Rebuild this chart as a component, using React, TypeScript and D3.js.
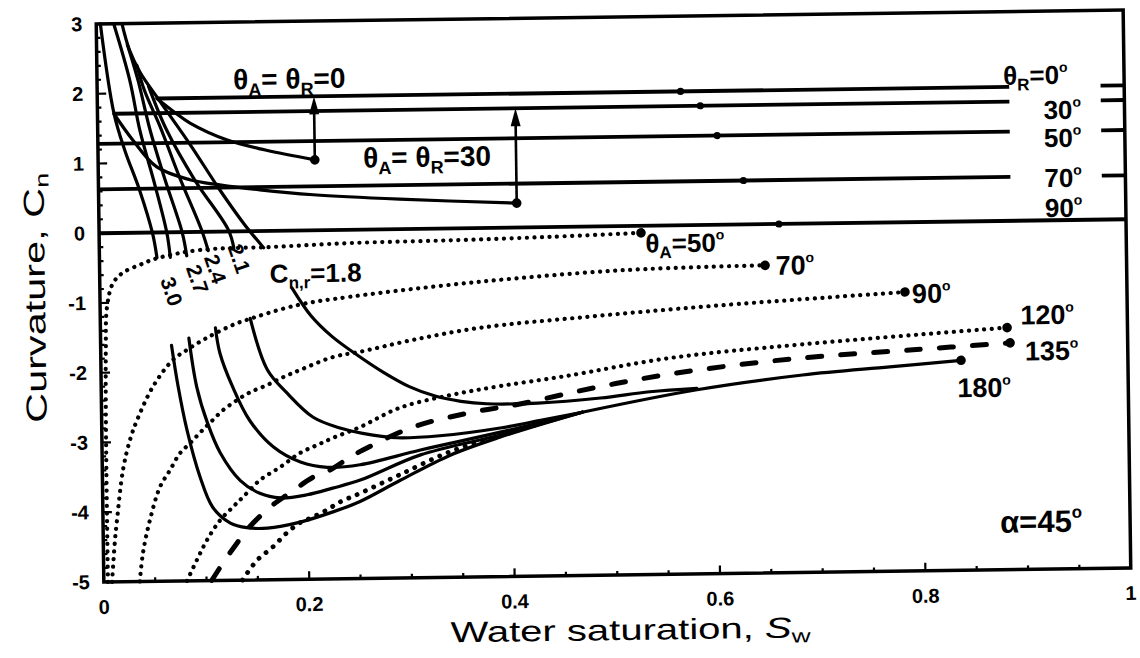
import React from 'react';
import * as d3 from 'd3';

type P = [number, number];

// ---- axes ----
const xTickValues = [0, 0.2, 0.4, 0.6, 0.8, 1];
const xTickLabels = ['0', '0.2', '0.4', '0.6', '0.8', '1'];
const yTickValues = [3, 2, 1, 0, -1, -2, -3, -4, -5];
const yTickLabels = ['3', '2', '1', '0', '-1', '-2', '-3', '-4', '-5'];

// ---- receding contact angle plateaus (θR = 0, 30, 50, 70, 90°) ----
const recedingCn = [1.92, 1.71, 1.28, 0.63, 0];
const recedingFrom = [0.058, 0.016, 0, 0, 0];
const recedingTo = [0.888, 0.888, 0.888, 0.888, 1];
const recedingMarkSw = [0.568, 0.587, 0.603, 0.628, 0.662];
const recedingStubFrom = 0.977;

// ---- hinging curves, upper parts (Cn,r = 3.0 ... 1.8) ----
const hingeLeftTop: P[] = [[0.004, 3.0], [0.016, 1.72], [0.026, 1.19], [0.040, 0.61], [0.052, -0.01], [0.056, -0.36]];
const cnr30Top: P[] = [[0.017, 3.0], [0.032, 2.18], [0.041, 1.47], [0.055, 0.68], [0.066, -0.01], [0.069, -0.36]];
const cnr27Top: P[] = [[0.030, 2.7], [0.040, 2.18], [0.051, 1.47], [0.065, 0.75], [0.081, -0.01], [0.085, -0.34]];
const cnr24Top: P[] = [[0.039, 2.4], [0.046, 2.04], [0.061, 1.51], [0.079, 0.79], [0.100, 0.02], [0.106, -0.27]];
const cnr21Top: P[] = [[0.050, 2.1], [0.067, 1.47], [0.094, 0.74], [0.126, 0.02], [0.131, -0.24]];
const cnr18Top: P[] = [[0.025, 3.0], [0.032, 2.62], [0.042, 2.30], [0.060, 1.90], [0.090, 1.25], [0.118, 0.60], [0.142, 0.09], [0.160, -0.24]];

// ---- hinging curves, lower parts ----
const cnr30Low: P[] = [[0.069, -1.62], [0.075, -2.22], [0.083, -2.84], [0.095, -3.51], [0.107, -3.95], [0.124, -4.18], [0.140, -4.25], [0.160, -4.26], [0.192, -4.18], [0.224, -4.04], [0.250, -3.90], [0.290, -3.60], [0.339, -3.25], [0.388, -3.00], [0.468, -2.66]];
const cnr27Low: P[] = [[0.086, -1.52], [0.093, -2.22], [0.103, -2.74], [0.115, -3.17], [0.134, -3.57], [0.153, -3.76], [0.173, -3.83], [0.199, -3.79], [0.224, -3.70], [0.251, -3.59], [0.310, -3.24], [0.388, -2.97], [0.468, -2.66]];
const cnr24Low: P[] = [[0.112, -1.38], [0.116, -1.74], [0.128, -2.23], [0.144, -2.71], [0.167, -3.10], [0.193, -3.32], [0.219, -3.40], [0.251, -3.37], [0.310, -3.17], [0.388, -2.93], [0.468, -2.66]];
const cnr21Low: P[] = [[0.146, -1.25], [0.162, -1.99], [0.181, -2.33], [0.206, -2.68], [0.232, -2.84], [0.254, -2.92], [0.287, -2.99], [0.329, -2.97], [0.388, -2.87], [0.430, -2.76], [0.468, -2.66]];
const cnr18Low: P[] = [[0.187, -0.82], [0.205, -1.22], [0.225, -1.52], [0.250, -1.80], [0.275, -2.05], [0.300, -2.26], [0.325, -2.40], [0.350, -2.48], [0.375, -2.52], [0.425, -2.52], [0.486, -2.46], [0.534, -2.38], [0.580, -2.34]];

// ---- advancing contact angle curves ----
const adv180: P[] = [[0.468, -2.66], [0.580, -2.36], [0.683, -2.17], [0.768, -2.07], [0.8375, -1.99]];
const adv50: P[] = [[0.004, -5.0], [0.004, -3.11], [0.005, -1.68], [0.0067, -1.06], [0.0128, -0.72], [0.0227, -0.57], [0.0394, -0.46], [0.056, -0.37], [0.098, -0.26], [0.169, -0.23], [0.244, -0.19], [0.3415, -0.17], [0.439, -0.14], [0.5276, -0.10]];
const adv70: P[] = [[0.008, -5.0], [0.0114, -4.40], [0.0136, -4.12], [0.0201, -3.40], [0.0273, -2.97], [0.0344, -2.69], [0.0504, -2.21], [0.0702, -1.83], [0.084, -1.69], [0.1036, -1.52], [0.1291, -1.34], [0.1428, -1.27], [0.1917, -1.07], [0.2434, -0.96], [0.3702, -0.77], [0.5126, -0.63], [0.648, -0.59]];
const adv90: P[] = [[0.035, -5.0], [0.0385, -4.59], [0.0457, -4.12], [0.0559, -3.65], [0.0659, -3.41], [0.0758, -3.17], [0.0857, -3.03], [0.0956, -2.88], [0.1054, -2.74], [0.1183, -2.56], [0.132, -2.42], [0.1448, -2.31], [0.1614, -2.21], [0.1771, -2.10], [0.1938, -2.00], [0.2261, -1.82], [0.2524, -1.75], [0.3042, -1.59], [0.3696, -1.43], [0.469, -1.30], [0.598, -1.16], [0.7838, -1.00]];
const adv120: P[] = [[0.081, -5.0], [0.091, -4.70], [0.101, -4.42], [0.1139, -4.14], [0.1267, -3.95], [0.1366, -3.81], [0.1534, -3.57], [0.173, -3.39], [0.1927, -3.19], [0.2093, -3.08], [0.225, -2.98], [0.2514, -2.83], [0.2906, -2.56], [0.3395, -2.39], [0.3883, -2.27], [0.4517, -2.14], [0.5542, -1.90], [0.683, -1.73], [0.8828, -1.53]];
const adv135: P[] = [[0.105, -5.0], [0.1182, -4.71], [0.1301, -4.47], [0.140, -4.28], [0.1627, -3.96], [0.1824, -3.76], [0.205, -3.54], [0.2216, -3.44], [0.2413, -3.26], [0.254, -3.16], [0.303, -2.84], [0.3568, -2.65], [0.4075, -2.53], [0.4808, -2.31], [0.5589, -2.12], [0.6701, -1.94], [0.791, -1.83], [0.8855, -1.75]];
const advLow: P[] = [[0.135, -5.0], [0.1494, -4.72], [0.1651, -4.53], [0.179, -4.33], [0.1917, -4.19], [0.2045, -4.11], [0.2182, -4.01], [0.231, -3.90], [0.2505, -3.78], [0.2897, -3.52], [0.3387, -3.20], [0.388, -2.98], [0.430, -2.80]];

// ---- θA = θR cases ----
const equal0: P[] = [[0.058, 1.92], [0.075, 1.72], [0.09, 1.56], [0.126, 1.31], [0.163, 1.16], [0.211, 1.01]];
const equal30: P[] = [[0.016, 1.71], [0.034, 1.33], [0.057, 0.94], [0.089, 0.75], [0.118, 0.67], [0.157, 0.59], [0.209, 0.51], [0.293, 0.43], [0.407, 0.35]];

const INK = '#000';
const NARROW = "'Liberation Sans Narrow', 'Liberation Sans', Arial, sans-serif";
const SANS = "'Liberation Sans', Arial, sans-serif";

function Deg({ size = 14, dy = -12 }: { size?: number; dy?: number }) {
  return <tspan fontSize={size} dy={dy}>o</tspan>;
}

export default function App() {
  const x = d3.scaleLinear().domain([0, 1]).range([100, 1127]);
  const y = d3.scaleLinear().domain([-5, 3]).range([575, 17]);
  const line = d3.line<P>().x(d => x(d[0])).y(d => y(d[1])).curve(d3.curveCatmullRom.alpha(0.5));

  const xMinor = d3.range(0, 21).map(i => i * 0.05);
  const yMinor = d3.range(0, 41).map(i => -5 + i * 0.2);

  const solidCurves = [hingeLeftTop, cnr30Top, cnr27Top, cnr24Top, cnr21Top, cnr18Top,
    cnr30Low, cnr27Low, cnr24Low, cnr21Low, cnr18Low, adv180, equal0, equal30];
  const dottedCurves = [adv50, adv70, adv90, adv120];

  const endDots: P[] = [adv50, adv70, adv90, adv120, adv135, adv180, equal0, equal30].map(c => c[c.length - 1]);

  const arrows = [
    { pt: equal0[equal0.length - 1], top: recedingCn[0] },
    { pt: equal30[equal30.length - 1], top: recedingCn[1] },
  ];

  return (
    <svg width={1140} height={658} style={{ position: 'absolute', left: 0, top: 0, display: 'block' }}>
      <rect x={0} y={0} width={1140} height={658} fill="#fff" />
      <g transform="rotate(-0.78 613 296)">
        {/* frame */}
        <rect x={x(0)} y={y(3)} width={x(1) - x(0)} height={y(-5) - y(3)} fill="none" stroke={INK} strokeWidth={3.5} />
        {/* bottom ticks */}
        {xMinor.map((v, i) => (
          <line key={'xt' + i} x1={x(v)} x2={x(v)} y1={y(-5)} y2={y(-5) - (i % 4 === 0 ? 8 : 4)} stroke={INK} strokeWidth={2.2} />
        ))}
        {/* left ticks */}
        {yMinor.map((v, i) => (
          <line key={'yt' + i} x1={x(0)} x2={x(0) + (i % 5 === 0 ? 9 : 4)} y1={y(v)} y2={y(v)} stroke={INK} strokeWidth={2.2} />
        ))}
        {/* tick labels */}
        {xTickValues.map((v, i) => (
          <text key={'xl' + i} x={x(v)} y={y(-5) + 32} textAnchor="middle" fontFamily={SANS} fontWeight="bold" fontSize={20}>{xTickLabels[i]}</text>
        ))}
        {yTickValues.map((v, i) => (
          <text key={'yl' + i} x={x(0) - 14} y={y(v) + 7} textAnchor="end" fontFamily={SANS} fontWeight="bold" fontSize={20}>{yTickLabels[i]}</text>
        ))}
        {/* axis titles */}
        <text x={626} y={640} textAnchor="middle" fontFamily={SANS} fontSize={29} textLength={360} lengthAdjust="spacingAndGlyphs">
          Water saturation, <tspan fontStyle="italic">S</tspan><tspan fontSize={19} dy={5}>w</tspan>
        </text>
        <text transform="translate(45 290) rotate(-90)" textAnchor="middle" fontFamily={SANS} fontSize={29} textLength={250} lengthAdjust="spacingAndGlyphs">
          Curvature, C<tspan fontSize={19} dy={5}>n</tspan>
        </text>

        {/* receding plateaus */}
        {recedingCn.map((c, i) => (
          <g key={'r' + i}>
            <line x1={x(recedingFrom[i])} x2={x(recedingTo[i])} y1={y(c)} y2={y(c)} stroke={INK} strokeWidth={3.8} />
            {i < 4 && <line x1={x(recedingStubFrom)} x2={x(1)} y1={y(c)} y2={y(c)} stroke={INK} strokeWidth={3.8} />}
            <circle cx={x(recedingMarkSw[i])} cy={y(c)} r={3.6} fill={INK} />
          </g>
        ))}

        {/* solid curves */}
        {solidCurves.map((c, i) => (
          <path key={'s' + i} d={line(c) || ''} fill="none" stroke={INK} strokeWidth={3.2} strokeLinejoin="round" strokeLinecap="round" />
        ))}
        {/* dotted curves */}
        {dottedCurves.map((c, i) => (
          <path key={'d' + i} d={line(c) || ''} fill="none" stroke={INK} strokeWidth={4.2} strokeDasharray="0.1 7.5" strokeLinecap="round" />
        ))}
        <path d={line(advLow) || ''} fill="none" stroke={INK} strokeWidth={4.8} strokeDasharray="0.1 9" strokeLinecap="round" />
        {/* dashed 135 */}
        <path d={line(adv135) || ''} fill="none" stroke={INK} strokeWidth={5} strokeDasharray="14 19" strokeLinecap="round" />

        {/* arrows */}
        {arrows.map((a, i) => (
          <g key={'a' + i}>
            <line x1={x(a.pt[0])} x2={x(a.pt[0])} y1={y(a.pt[1])} y2={y(a.top) + 10} stroke={INK} strokeWidth={2.6} />
            <polygon points={`${x(a.pt[0])},${y(a.top)} ${x(a.pt[0]) - 5},${y(a.top) + 18} ${x(a.pt[0]) + 5},${y(a.top) + 18}`} fill={INK} />
          </g>
        ))}

        {/* end dots */}
        {endDots.map((p, i) => (
          <circle key={'e' + i} cx={x(p[0])} cy={y(p[1])} r={4.8} fill={INK} />
        ))}

        {/* labels */}
        <g fontFamily={NARROW} fontWeight="bold" fill={INK}>
          <text x={236} y={84} fontSize={28}>θ<tspan fontSize={18} dy={7}>A</tspan><tspan dy={-7}>= θ</tspan><tspan fontSize={18} dy={7}>R</tspan><tspan dy={-7}>=0</tspan></text>
          <text x={365} y={164} fontSize={28}>θ<tspan fontSize={18} dy={7}>A</tspan><tspan dy={-7}>= θ</tspan><tspan fontSize={18} dy={7}>R</tspan><tspan dy={-7}>=30</tspan></text>

          <text x={1006} y={90} fontSize={26}>θ<tspan fontSize={17} dy={6}>R</tspan><tspan dy={-6}>=0</tspan><Deg /></text>
          <text x={1046} y={125} fontSize={26}>30<Deg /></text>
          <text x={1046} y={153} fontSize={26}>50<Deg /></text>
          <text x={1046} y={193} fontSize={26}>70<Deg /></text>
          <text x={1046} y={223} fontSize={26}>90<Deg /></text>

          <text x={646} y={253} fontSize={26}>θ<tspan fontSize={17} dy={6}>A</tspan><tspan dy={-6}>=50</tspan><Deg /></text>
          <text x={776} y={277} fontSize={27}>70<Deg /></text>
          <text x={912} y={307} fontSize={27}>90<Deg /></text>
          <text x={1020} y={330} fontSize={27}>120<Deg /></text>
          <text x={1024} y={366} fontSize={27}>135<Deg /></text>
          <text x={956} y={402} fontSize={27}>180<Deg /></text>
          <text x={997} y={538} fontSize={31}>α=45<Deg size={17} dy={-14} /></text>

          <text transform="translate(170 286) rotate(72)" textAnchor="middle" dominantBaseline="middle" fontSize={21}>3.0</text>
          <text transform="translate(196 274) rotate(72)" textAnchor="middle" dominantBaseline="middle" fontSize={21}>2.7</text>
          <text transform="translate(214 264) rotate(72)" textAnchor="middle" dominantBaseline="middle" fontSize={21}>2.4</text>
          <text transform="translate(238 254) rotate(72)" textAnchor="middle" dominantBaseline="middle" fontSize={21}>2.1</text>
          <text x={270} y={278} fontSize={26}>C<tspan fontSize={17} dy={6}>n,r</tspan><tspan dy={-6}>=1.8</tspan></text>
        </g>
      </g>
    </svg>
  );
}
